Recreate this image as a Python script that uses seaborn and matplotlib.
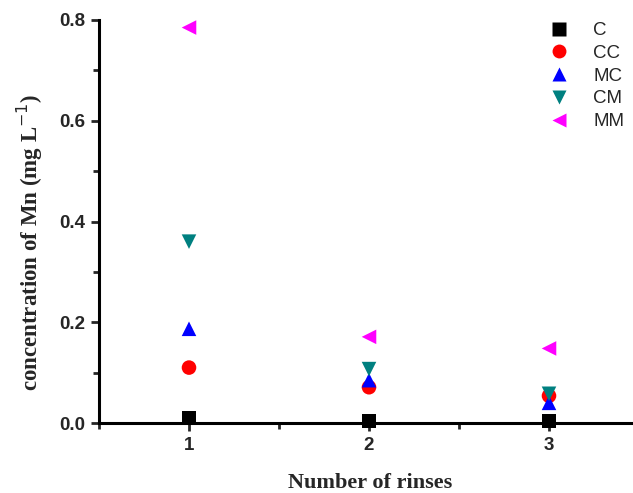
import matplotlib
matplotlib.use("Agg")
import matplotlib.pyplot as plt
import seaborn as sns
import pandas as pd
from matplotlib.ticker import MultipleLocator

rinses = [1, 2, 3]
C = [0.010, 0.004, 0.004]
CC = [0.110, 0.071, 0.054]
MC = [0.187, 0.085, 0.040]
CM = [0.360, 0.107, 0.058]
MM = [0.785, 0.171, 0.148]
series_names = ["C", "CC", "MC", "CM", "MM"]
series_vals = [C, CC, MC, CM, MM]
colors = ["black", "#ff0000", "#0000ff", "#008080", "#ff00ff"]
markers = ["s", "o", "^", "v", "<"]

rows = []
for name, vals in zip(series_names, series_vals):
    for r, v in zip(rinses, vals):
        rows.append({"rinse": r, "conc": v, "sample": name})
df = pd.DataFrame(rows)

sns.set_style("ticks")
fig = plt.figure(figsize=(6.33, 4.93), dpi=100)
ax = fig.add_axes([99/633, 1 - 423/493, 534/633, 403/493])

sns.scatterplot(data=df, x="rinse", y="conc", hue="sample", style="sample",
                hue_order=series_names, style_order=series_names,
                palette=colors, markers=markers, s=110, edgecolor="none",
                ax=ax, clip_on=False, zorder=5)

ax.set_xlim(0.5, 0.5 + 534/180)
ax.set_ylim(0, 0.8)
ax.xaxis.set_major_locator(MultipleLocator(1))
ax.xaxis.set_minor_locator(MultipleLocator(0.5))
ax.yaxis.set_major_locator(MultipleLocator(0.2))
ax.yaxis.set_minor_locator(MultipleLocator(0.1))
ax.set_xticks([1, 2, 3])
ax.set_xticklabels(["1", "2", "3"])
ax.set_yticks([0.0, 0.2, 0.4, 0.6, 0.8])
ax.set_yticklabels(["0.0", "0.2", "0.4", "0.6", "0.8"])

for s in ["top", "right"]:
    ax.spines[s].set_visible(False)
for s in ["left", "bottom"]:
    ax.spines[s].set_linewidth(2.2)
    ax.spines[s].set_color("black")
ax.tick_params(which="major", direction="out", length=6, width=2, labelsize=13.5, pad=4)
ax.tick_params(which="minor", direction="out", length=4, width=2)
for lab in ax.get_xticklabels() + ax.get_yticklabels():
    lab.set_fontfamily("Liberation Sans")
    lab.set_fontweight("bold")

ax.set_xlabel("Number of rinses", fontfamily="Liberation Serif",
              fontweight="bold", fontsize=16)
ax.xaxis.set_label_coords((370 - 99) / 534, -(483 - 423) / 403)
ax.xaxis.label.set_va("center")
ax.set_ylabel("concentration of Mn (mg L$^{\\mathrm{-1}}$)", fontfamily="Liberation Serif",
              fontweight="bold", fontsize=16.5)
ax.yaxis.set_label_coords(-(99 - 30) / 534, (423 - 242) / 403)
ax.yaxis.label.set_va("center")

leg = ax.legend(loc="upper right", bbox_to_anchor=(1.015, 1.037), frameon=False,
                prop={"family": "Liberation Sans", "size": 13.5},
                handletextpad=0.8, labelspacing=0.3, markerscale=1.0)
for h in leg.legend_handles:
    h.set_markersize(10)

fig.savefig("out.png", dpi=100)
